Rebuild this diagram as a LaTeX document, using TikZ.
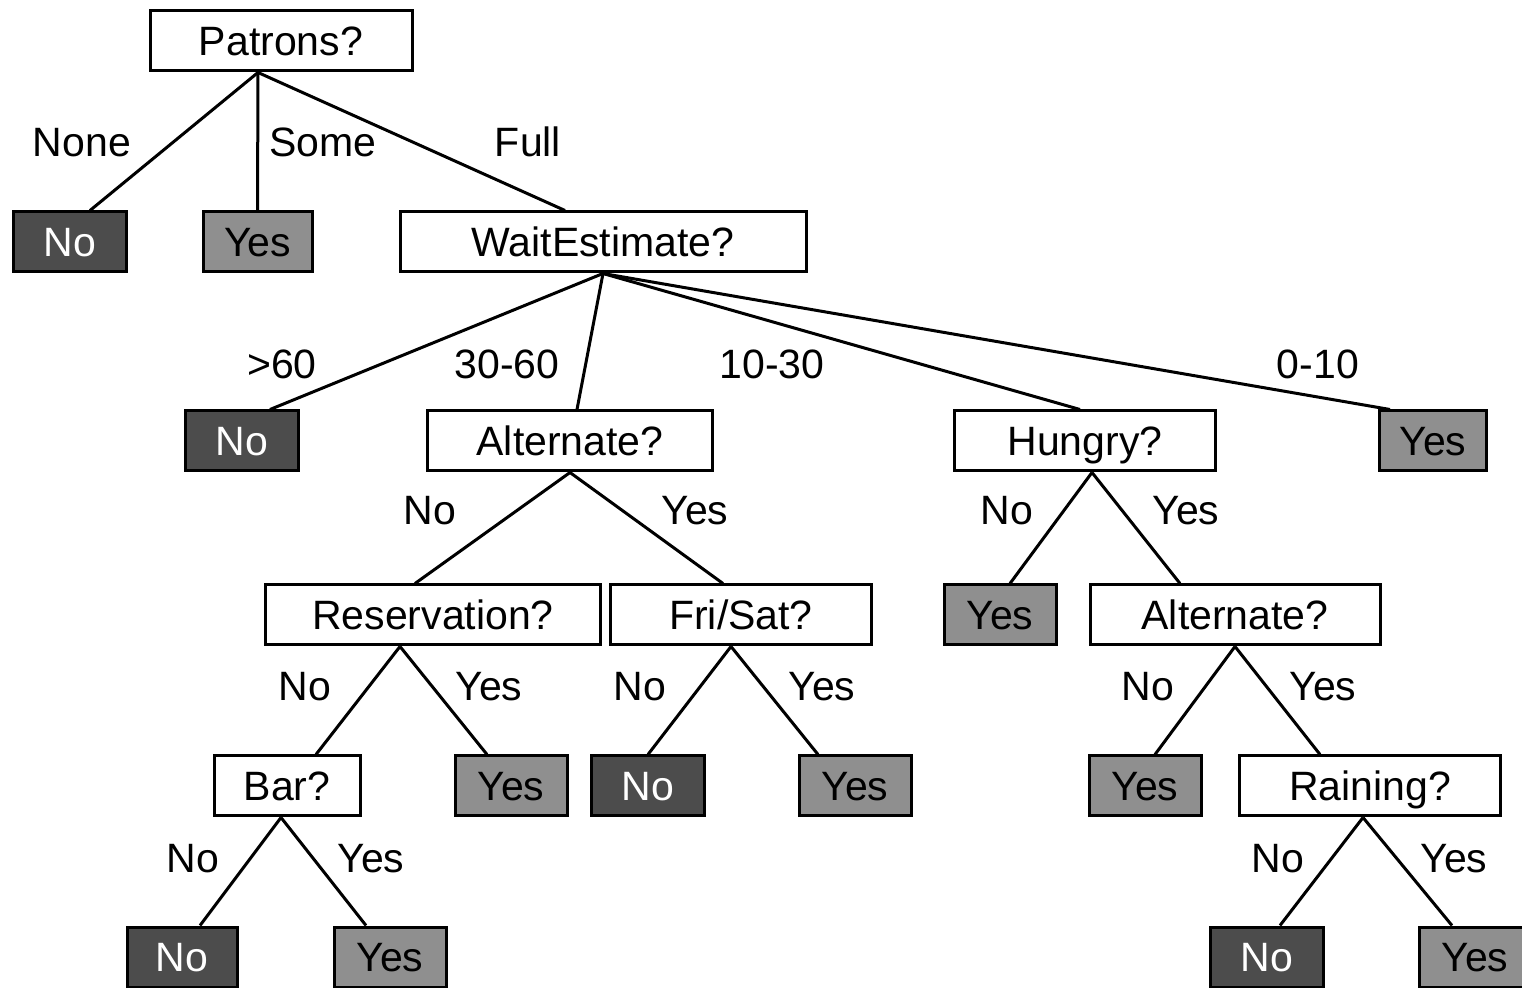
\documentclass[tikz,border=0pt]{standalone}
\usepackage{fontspec}
\setmainfont{Liberation Sans}
\definecolor{leafdark}{gray}{0.30}
\definecolor{leaflight}{gray}{0.56}
\begin{document}
\begin{tikzpicture}[
    x=0.5pt, y=-0.5pt,
    every node/.style={font=\fontsize{20.5}{24}\selectfont, inner sep=0pt, text height=19.2pt, text depth=4.5pt},
    test/.style={draw, line width=1.5pt, fill=white, minimum height=30pt},
    leafno/.style={draw, line width=1.5pt, fill=leafdark, text=white, minimum width=56.5pt, minimum height=30pt},
    leafyes/.style={draw, line width=1.5pt, fill=leaflight, minimum width=56pt, minimum height=30pt},
    branch/.style={line width=1.5pt},
]
    \useasboundingbox[fill=white] (0,0) rectangle (1522,988);

    % Tests
    \node[test, minimum width=131pt] (pat) at (281,41) {Patrons?};
    \node[test, minimum width=203pt] (wait) at (603,242) {WaitEstimate?};
    \node[test, minimum width=142.5pt] (alt) at (570,441) {Alternate?};
    \node[test, minimum width=130.5pt] (hun) at (1085,441) {Hungry?};
    \node[test, minimum width=167.5pt] (res) at (433,615) {Reservation?};
    \node[test, minimum width=130.5pt] (fri) at (741,615) {Fri/Sat?};
    \node[test, minimum width=145pt] (alttwo) at (1235,615) {Alternate?};
    \node[test, minimum width=73pt] (bar) at (287,786) {Bar?};
    \node[test, minimum width=130.5pt] (rain) at (1370,786) {Raining?};

    % Leaves
    \node[leafno] (noA) at (70,242) {No};
    \node[leafyes, minimum width=54.5pt] (yesA) at (257.5,242) {Yes};
    \node[leafno] (noB) at (242,441) {No};
    \node[leafyes, minimum width=53.5pt] (yesB) at (1433,441) {Yes};
    \node[leafyes] (yesC) at (1000,615) {Yes};
    \node[leafyes] (yesD) at (511,786) {Yes};
    \node[leafno] (noC) at (648,786) {No};
    \node[leafyes] (yesE) at (855,786) {Yes};
    \node[leafyes] (yesF) at (1145,786) {Yes};
    \node[leafno, minimum width=55pt] (noD) at (182,957) {No};
    \node[leafyes] (yesG) at (390,957) {Yes};
    \node[leafno] (noE) at (1267,957) {No};
    \node[leafyes] (yesH) at (1475,957) {Yes};

    % Branches
    \draw[branch] ([xshift=-11.5pt]pat.south) -- ([xshift=10pt]noA.north);
    \draw[branch] ([xshift=-11.5pt]pat.south) -- (yesA.north);
    \draw[branch] ([xshift=-11.5pt]pat.south) -- ([xshift=-19pt]wait.north);

    \draw[branch] (wait.south) -- ([xshift=14pt]noB.north);
    \draw[branch] (wait.south) -- ([xshift=3.5pt]alt.north);
    \draw[branch] (wait.south) -- ([xshift=-2.5pt]hun.north);
    \draw[branch] (wait.south) -- ([xshift=-21.5pt]yesB.north);

    \draw[branch] (alt.south) -- ([xshift=-9pt]res.north);
    \draw[branch] (alt.south) -- ([xshift=-9pt]fri.north);

    \draw[branch] ([xshift=3.5pt]hun.south) -- ([xshift=5pt]yesC.north);
    \draw[branch] ([xshift=3.5pt]hun.south) -- ([xshift=-27.5pt]alttwo.north);

    \draw[branch] ([xshift=-16.5pt]res.south) -- ([xshift=14.5pt]bar.north);
    \draw[branch] ([xshift=-16.5pt]res.south) -- ([xshift=-12pt]yesD.north);

    \draw[branch] ([xshift=-5pt]fri.south) -- (noC.north);
    \draw[branch] ([xshift=-5pt]fri.south) -- ([xshift=-18.5pt]yesE.north);

    \draw[branch] (alttwo.south) -- ([xshift=5pt]yesF.north);
    \draw[branch] (alttwo.south) -- ([xshift=-25pt]rain.north);

    \draw[branch] ([xshift=-3pt]bar.south) -- ([xshift=9pt]noD.north);
    \draw[branch] ([xshift=-3pt]bar.south) -- ([xshift=-12pt]yesG.north);

    \draw[branch] ([xshift=-3.5pt]rain.south) -- ([xshift=6.5pt]noE.north);
    \draw[branch] ([xshift=-3.5pt]rain.south) -- ([xshift=-11.5pt]yesH.north);

    % Branch labels
    \node (lNone) at (82,142) {None};
    \node (lSome) at (323,142) {Some};
    \node (lFull) at (528,142) {Full};
    \node (lSixty) at (282,364) {>60};
    \node (lThirty) at (507,364) {30-60};
    \node (lTen) at (772,364) {10-30};
    \node (lZero) at (1318,364) {0-10};
    \node (lAltNo) at (430,510) {No};
    \node (lAltYes) at (695,510) {Yes};
    \node (lHunNo) at (1007,510) {No};
    \node (lHunYes) at (1186,510) {Yes};
    \node (lResNo) at (305,686) {No};
    \node (lResYes) at (489,686) {Yes};
    \node (lFriNo) at (640,686) {No};
    \node (lFriYes) at (822,686) {Yes};
    \node (lAltTwoNo) at (1148,686) {No};
    \node (lAltTwoYes) at (1323,686) {Yes};
    \node (lBarNo) at (193,858) {No};
    \node (lBarYes) at (371,858) {Yes};
    \node (lRainNo) at (1278,858) {No};
    \node (lRainYes) at (1454,858) {Yes};
\end{tikzpicture}
\end{document}
